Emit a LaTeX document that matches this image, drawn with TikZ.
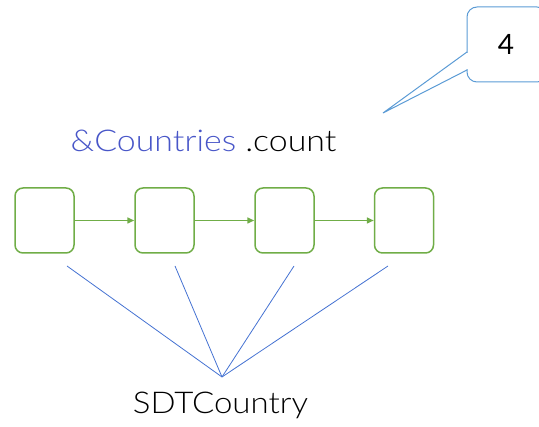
\documentclass[tikz,border=0pt]{standalone}
\usepackage{fontspec}
\newfontfamily\lightfont{Lato Light}
\newfontfamily\regfont{Lato}
\usetikzlibrary{arrows.meta}
\definecolor{grn}{RGB}{112,173,71}
\definecolor{txtblue}{RGB}{72,86,200}
\definecolor{lnblue}{RGB}{68,114,210}
\definecolor{callblue}{RGB}{91,155,213}
\begin{document}
\begin{tikzpicture}[x=1pt,y=-1pt,
  item/.style={draw=grn, line width=1.5pt, rounded corners=8pt, minimum width=59pt, minimum height=65pt, inner sep=0pt},
  link/.style={draw=grn, line width=1.5pt, -{Triangle[length=7pt,width=6pt]}},
  fan/.style={draw=lnblue, line width=0.8pt},
  bigtext/.style={inner sep=0pt, font=\lightfont\fontsize{30}{36}\selectfont}]
\useasboundingbox (0,0) rectangle (539,427);
\node[item] (b1) at (44.5,220.5) {};
\node[item] (b2) at (164.5,220.5) {};
\node[item] (b3) at (284.5,220.5) {};
\node[item] (b4) at (404,220.5) {};
\draw[link] (b1) -- (b2);
\draw[link] (b2) -- (b3);
\draw[link] (b3) -- (b4);
\node[bigtext, anchor=base] (title) at (203.5,152) {\scalebox{1.13}[1]{\textcolor{txtblue}{\&Countries} .count}};
\node[bigtext, anchor=base] (sdt) at (220.5,414) {\scalebox{1.1}[1]{SDTCountry}};
\coordinate (hub) at (222,377);
\coordinate (t1) at (67,266);
\coordinate (t2) at (175,266);
\coordinate (t3) at (294,266);
\coordinate (t4) at (388,266);
\draw[fan] (t1) -- (hub);
\draw[fan] (t2) -- (hub);
\draw[fan] (t3) -- (hub);
\draw[fan] (t4) -- (hub);
\node[draw=callblue, line width=1pt, rounded corners=10pt, minimum width=80pt, minimum height=75pt] (call) at (507,44.5) {};
\node[inner sep=0pt, anchor=base, font=\regfont\fontsize{28}{32}\selectfont] (num) at (506,55) {4};
\coordinate (tip) at (383,113);
\draw[white, line width=2.5pt] (467,53) -- (467,69);
\draw[callblue, line width=1pt] (467,52) -- (tip) -- (467,70);
\end{tikzpicture}
\end{document}
